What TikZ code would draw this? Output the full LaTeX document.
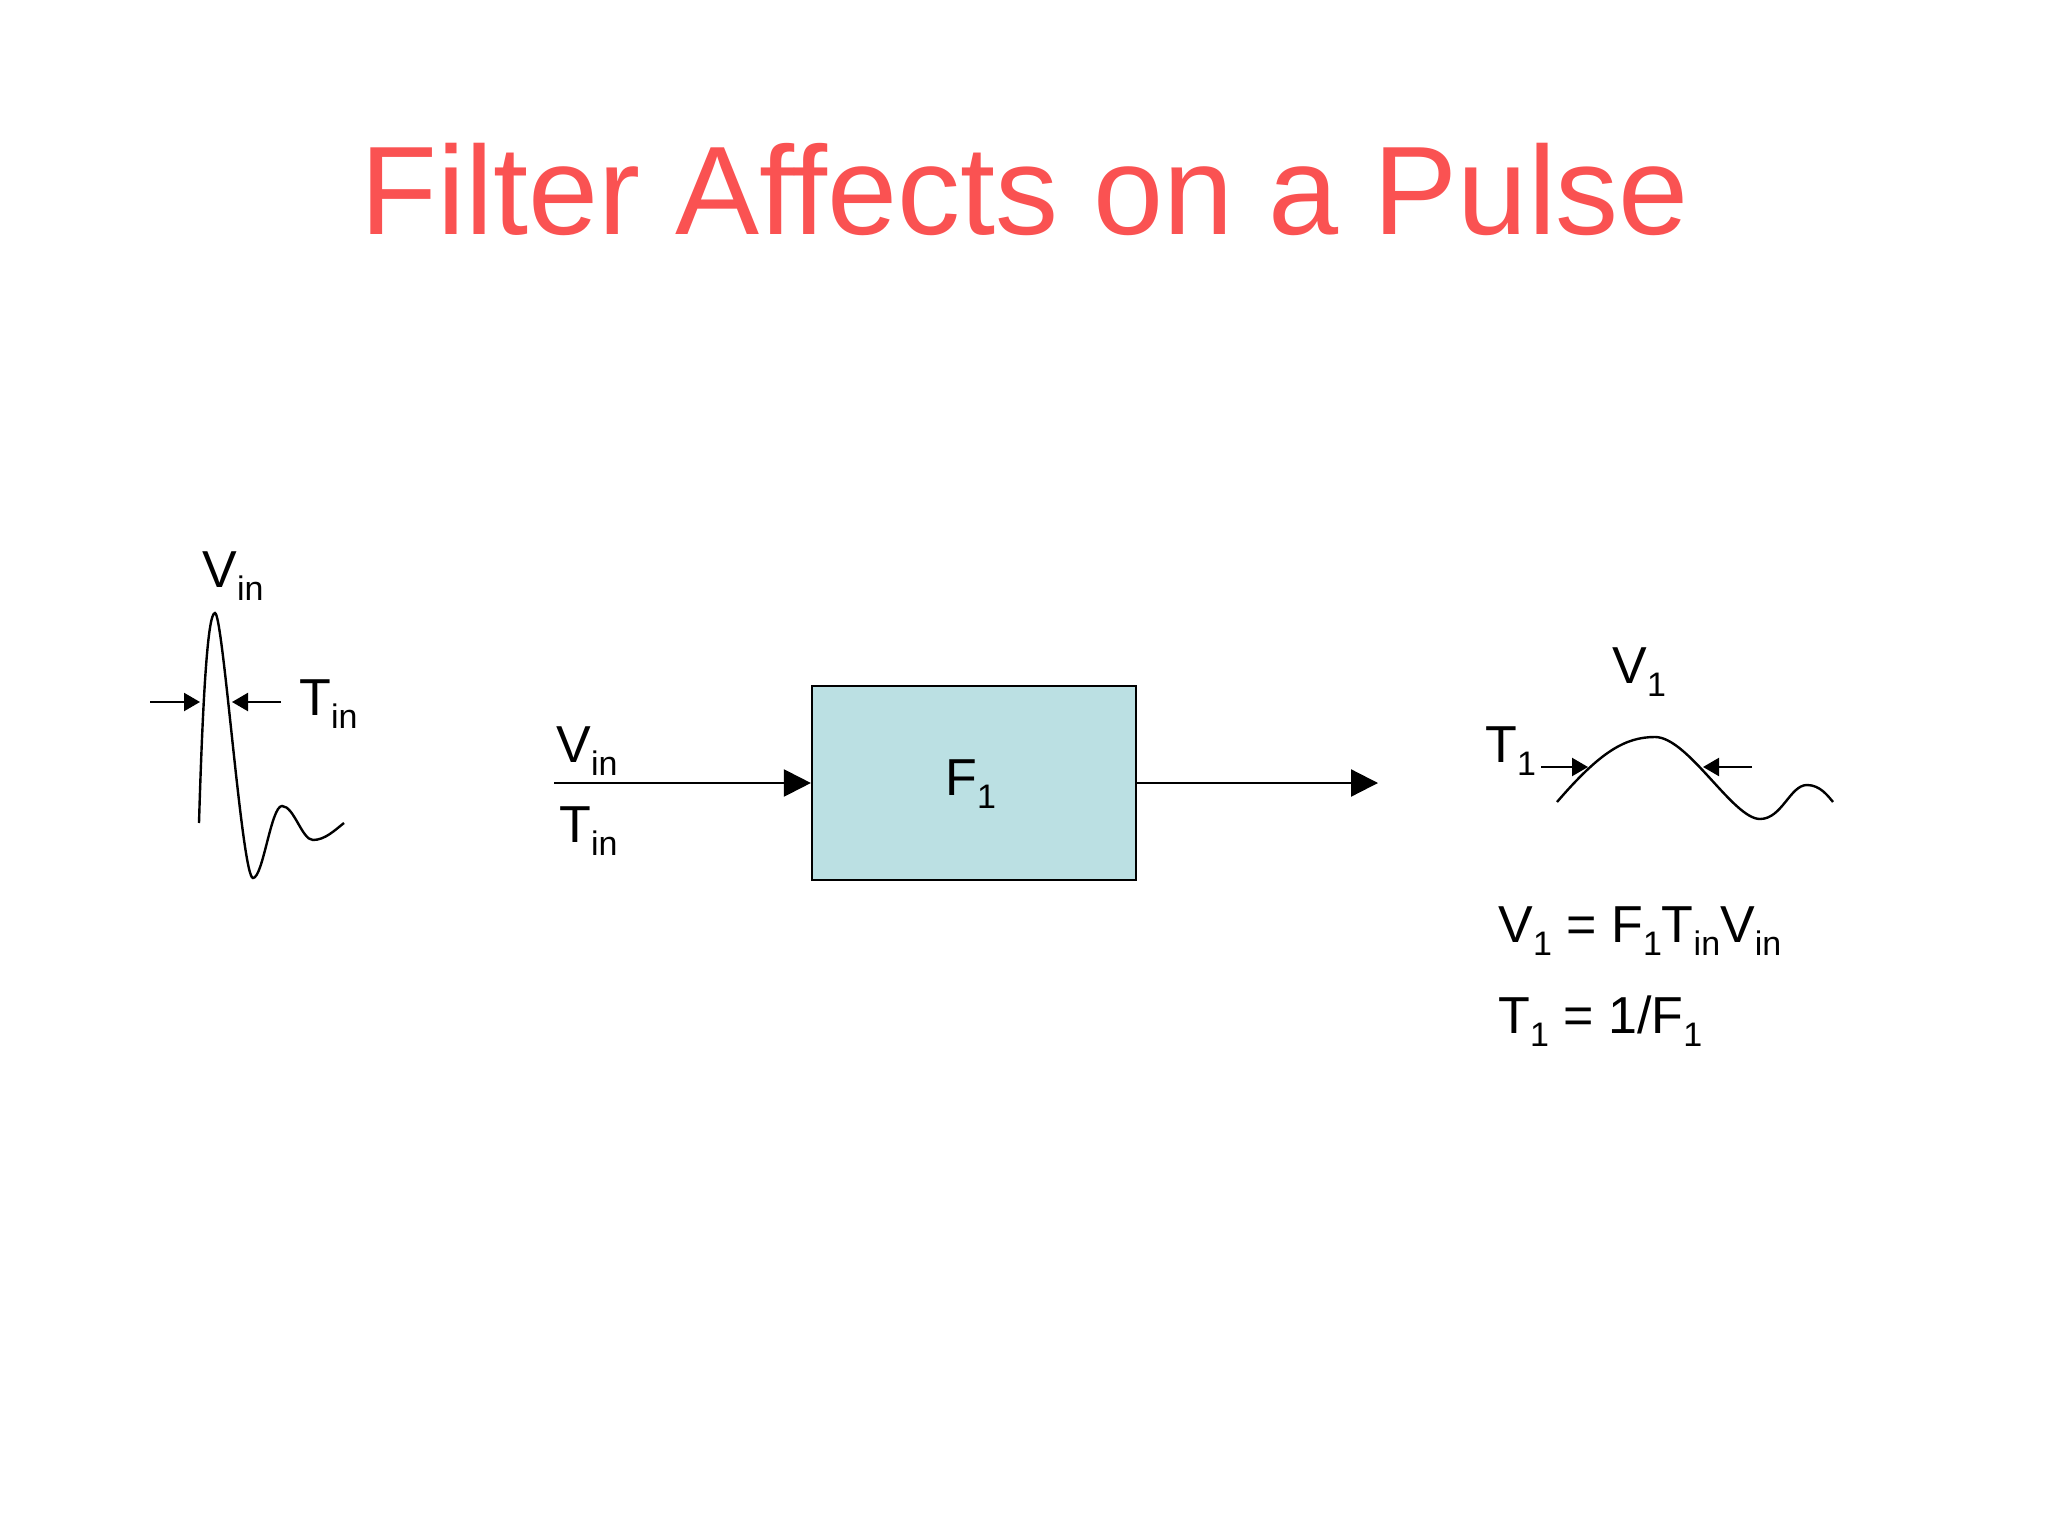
\documentclass[tikz,border=0pt]{standalone}
\usepackage{fontspec}
\setmainfont{Liberation Sans}
\usetikzlibrary{positioning,arrows.meta}

\definecolor{titlered}{RGB}{250,82,82}
\definecolor{filterblue}{RGB}{187,224,227}

\newcommand{\lowsub}[1]{\raisebox{-6.5pt}{\fontsize{17}{17}\selectfont #1}}

\tikzset{
  lbl/.style={inner sep=0pt, anchor=base west, font=\fontsize{26}{30}\selectfont},
  wave/.style={line width=1.2pt},
  pin/.style={line width=1.1pt, -{Triangle[length=8pt,width=9pt]}},
  flow/.style={line width=1.1pt, -{Triangle[length=13.5pt,width=13.5pt]}},
}

\begin{document}
\begin{tikzpicture}[x=0.5pt,y=-0.5pt]
  \fill[white] (0,0) rectangle (2048,1534);
  \node (title) [anchor=base, inner sep=0pt, text=titlered,
    font=\fontsize{63}{70}\selectfont] at (1025,235) {Filter Affects on a Pulse};

  % input pulse
  \draw[wave] (199,823) .. controls (203,690) and (208,613) .. (215,613)
    .. controls (223,613) and (242,878) .. (253,878)
    .. controls (263,878) and (271,806) .. (282,806)
    .. controls (294,806) and (302,840) .. (313,840)
    .. controls (325,840) and (335,830) .. (344,823);
  \node (vinpulse) [lbl] at (202,587) {V\lowsub{in}};
  \node (tinpulse) [lbl] at (299,715) {T\lowsub{in}};
  \coordinate (tinA) at (150,702);
  \coordinate (tinB) at (200,702);
  \coordinate (tinC) at (281,702);
  \coordinate (tinD) at (232,702);
  \draw[pin] (tinA) -- (tinB);
  \draw[pin] (tinC) -- (tinD);

  % filter block
  \node (filter) [draw, fill=filterblue, line width=1.1pt, inner sep=0pt,
    minimum width=162pt, minimum height=97pt] at (974,783) {};
  \node (flabel) [lbl] at (945,795) {F\lowsub{1}};
  \coordinate (src) at (554,783);
  \coordinate (sink) at (1378,783);
  \draw[flow] (src) -- (filter.west);
  \draw[flow] (filter.east) -- (sink);
  \node (vinline) [lbl] at (556,762) {V\lowsub{in}};
  \node (tinline) [lbl] at (559,842) {T\lowsub{in}};

  % output pulse
  \draw[wave] (1557,802) .. controls (1600,752) and (1625,737) .. (1655,737)
    .. controls (1688,737) and (1733,819) .. (1760,819)
    .. controls (1782,819) and (1790,785) .. (1807,785)
    .. controls (1820,785) and (1828,796) .. (1833,802);
  \node (vout) [lbl] at (1612,683) {V\lowsub{1}};
  \node (tout) [lbl] at (1485,762) {T\lowsub{1}};
  \coordinate (toutA) at (1541,767);
  \coordinate (toutB) at (1588,767);
  \coordinate (toutC) at (1752,767);
  \coordinate (toutD) at (1703,767);
  \draw[pin] (toutA) -- (toutB);
  \draw[pin] (toutC) -- (toutD);

  % relations
  \node (eqv) [lbl] at (1498,942) {V\lowsub{1} = F\lowsub{1}T\lowsub{in}V\lowsub{in}};
  \node (eqt) [lbl] at (1498,1033) {T\lowsub{1} = 1/F\lowsub{1}};
\end{tikzpicture}
\end{document}
